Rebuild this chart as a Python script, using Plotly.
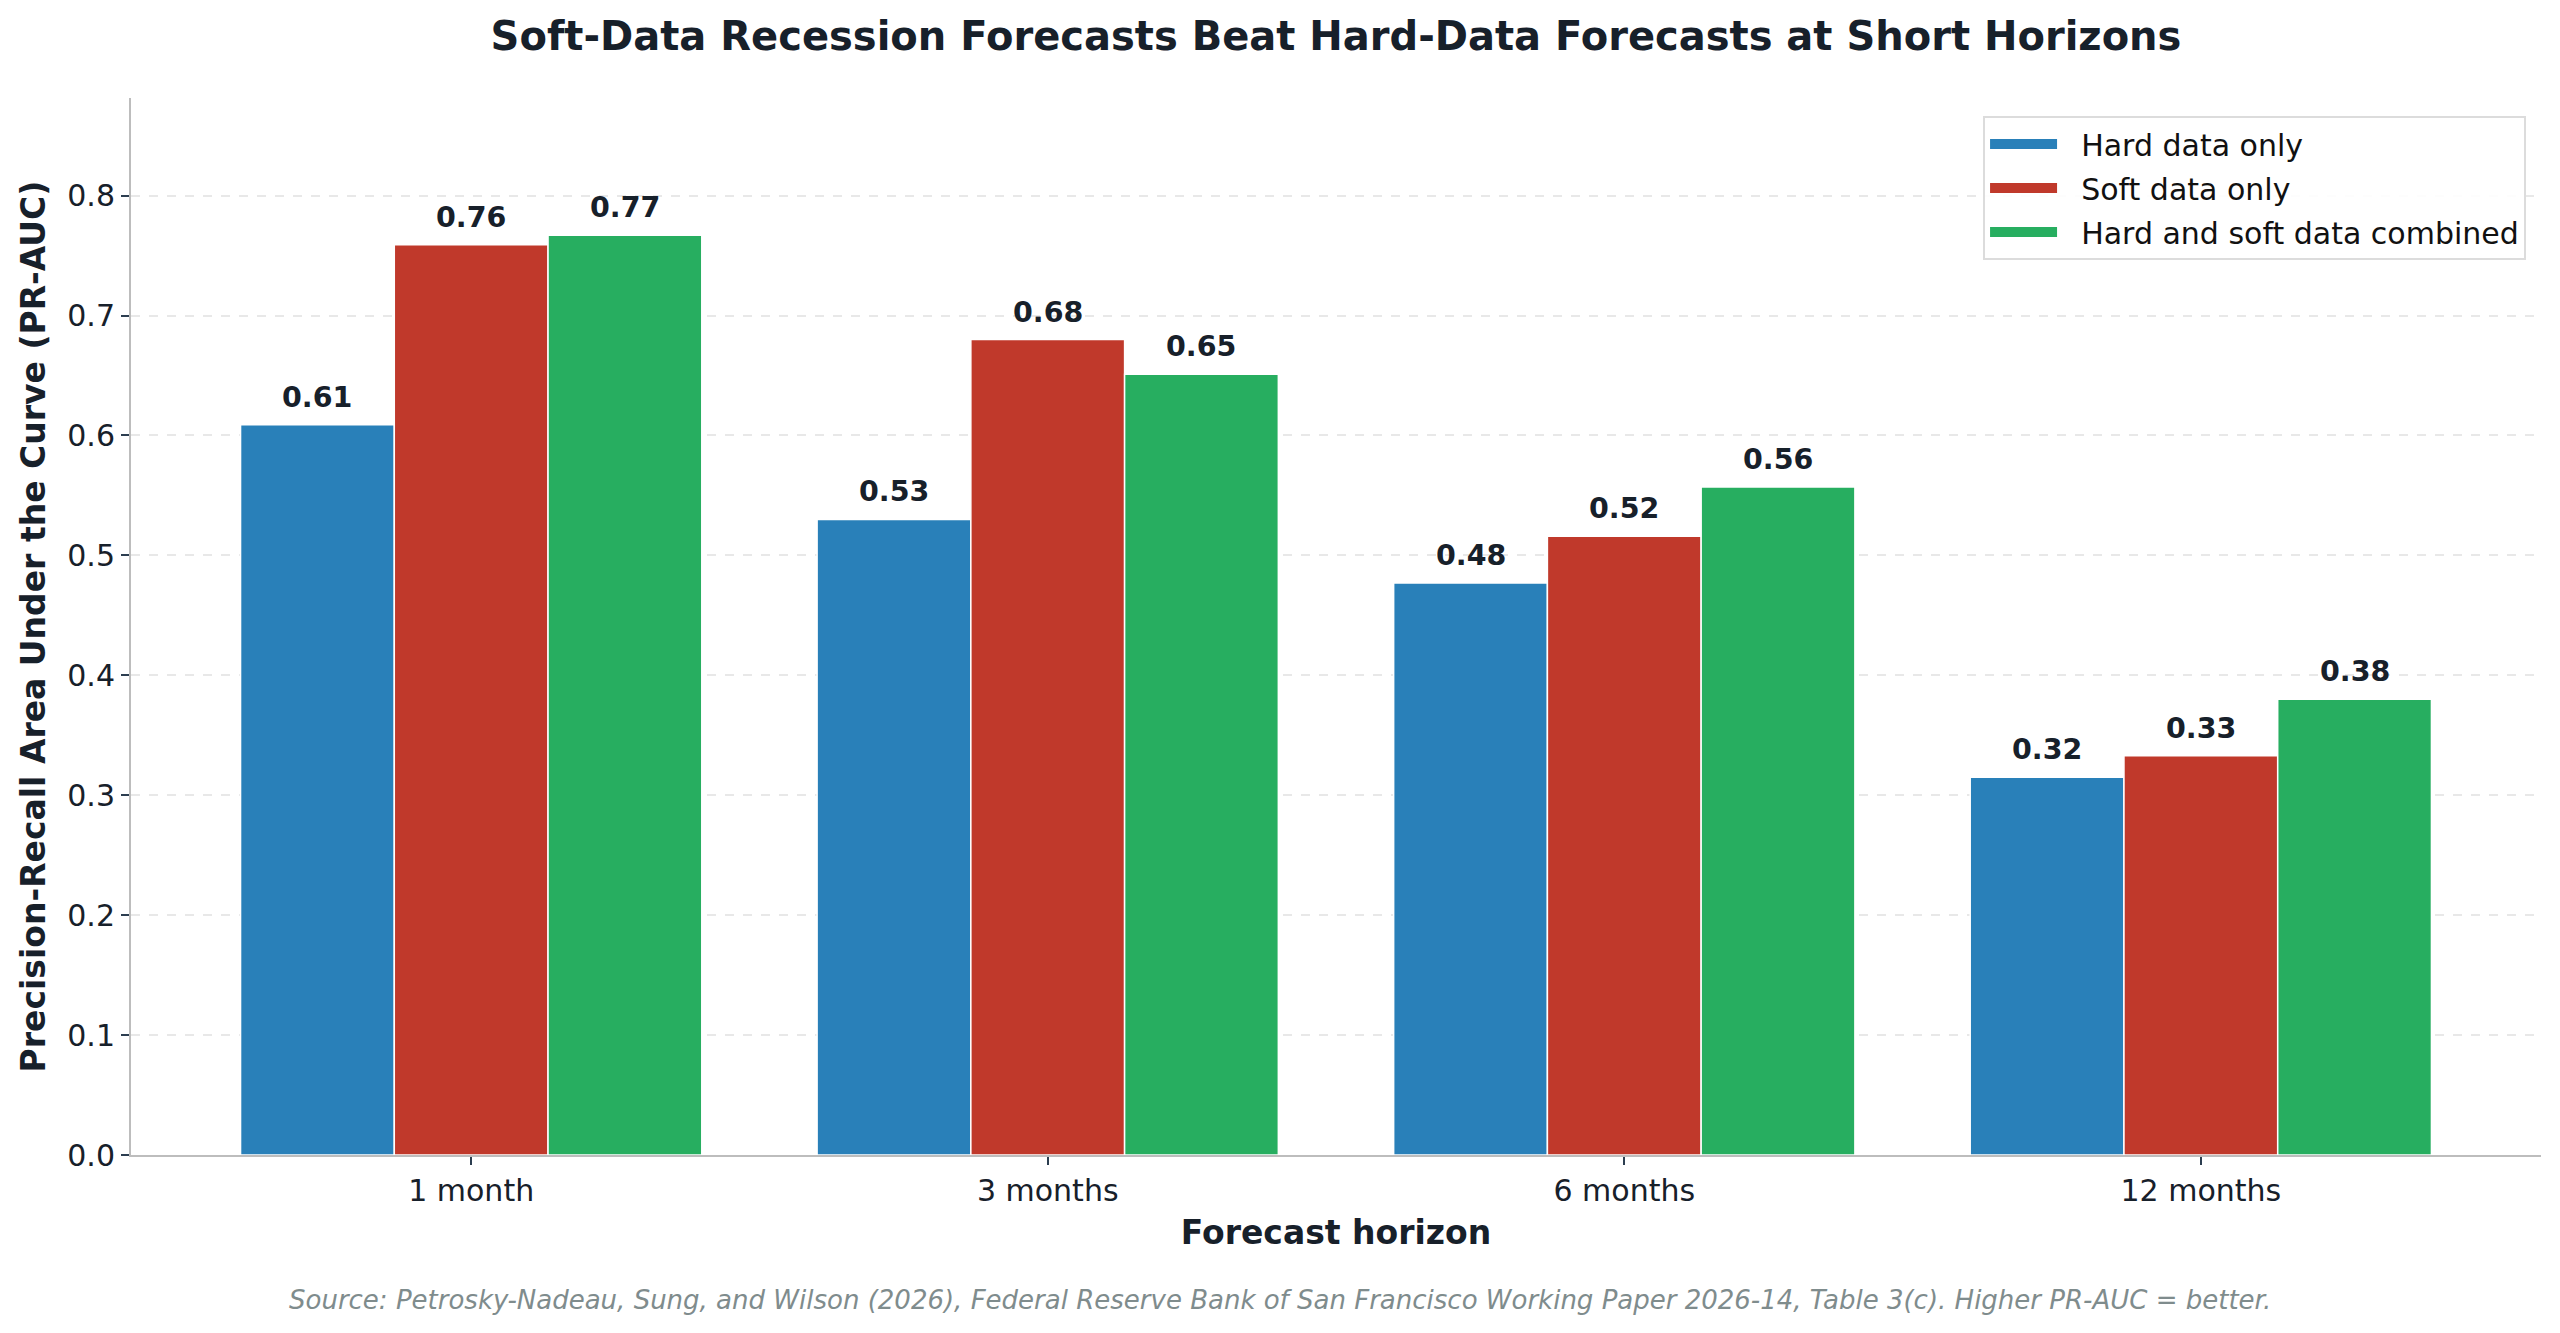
import plotly.graph_objects as go

# ---- data ----
horizons = ["1 month", "3 months", "6 months", "12 months"]
series_names = ["Hard data only", "Soft data only", "Hard and soft data combined"]
hard_only = [0.609, 0.530, 0.477, 0.315]
soft_only = [0.759, 0.680, 0.516, 0.333]
combined = [0.767, 0.651, 0.557, 0.380]
y_ticks = [0.0, 0.1, 0.2, 0.3, 0.4, 0.5, 0.6, 0.7, 0.8]

colors = ["#2980b9", "#c0392b", "#27ae60"]
series_values = [hard_only, soft_only, combined]

DARK = "#17202a"
FONT = "DejaVu Sans"

W, H = 2560, 1333
ML, MR, MT, MB = 131, 19, 98, 178
PW, PH = W - ML - MR, H - MT - MB

n_series = len(series_values)
group_width = 0.8
bar_w = group_width / n_series
x_centers = list(range(len(horizons)))

fig = go.Figure()
annotations = []
for s, (name, vals, col) in enumerate(zip(series_names, series_values, colors)):
    off = (s - (n_series - 1) / 2) * bar_w
    xs = [c + off for c in x_centers]
    fig.add_trace(go.Bar(
        x=xs, y=vals, width=bar_w, name=name,
        marker=dict(color=col, line=dict(color="white", width=1.5)),
        legendgroup=name, showlegend=False, hoverinfo="skip",
    ))
    # legend entry drawn as a wide patch (thick line symbol)
    fig.add_trace(go.Scatter(
        x=[None], y=[None], mode="lines", name="\u00a0\u00a0" + name,
        line=dict(color=col, width=20),
        legendgroup=name, showlegend=True, hoverinfo="skip",
    ))
    for x, v in zip(xs, vals):
        annotations.append(dict(
            x=x, y=v, xref="x", yref="y", text=f"<b>{v:.2f}</b>",
            showarrow=False, yanchor="bottom", yshift=9,
            font=dict(family=FONT, size=28.5, color=DARK),
        ))

annotations.append(dict(
    text="<i>Source: Petrosky-Nadeau, Sung, and Wilson (2026), Federal Reserve Bank of San Francisco Working Paper 2026-14, Table 3(c). Higher PR-AUC = better.</i>",
    xref="paper", yref="paper", x=(W / 2 - ML) / PW, y=-((1300 - (H - MB)) / PH),
    xanchor="center", yanchor="middle", showarrow=False,
    font=dict(family=FONT, size=26, color="#7f8c8d"),
))

fig.update_layout(
    width=W, height=H,
    paper_bgcolor="white", plot_bgcolor="white",
    margin=dict(l=ML, r=MR, t=MT, b=MB),
    barmode="overlay",
    title=dict(
        text="<b>Soft-Data Recession Forecasts Beat Hard-Data Forecasts at Short Horizons</b>",
        x=(ML + W - MR) / 2 / W, xanchor="center",
        y=1 - 36 / H, yanchor="middle",
        font=dict(family=FONT, size=40, color=DARK),
    ),
    font=dict(family=FONT, color=DARK),
    legend=dict(
        x=0.9938, y=0.983, xanchor="right", yanchor="top",
        bgcolor="rgba(255,255,255,0.9)", bordercolor="#dcdcdc", borderwidth=2,
        font=dict(family=FONT, size=30, color="#111111"),
        traceorder="grouped", tracegroupgap=2, itemwidth=67,
    ),
    annotations=annotations,
    showlegend=True,
)

fig.update_xaxes(
    range=[-0.59, len(horizons) - 1 + 0.59],
    tickmode="array", tickvals=x_centers, ticktext=horizons,
    tickfont=dict(family=FONT, size=30, color=DARK),
    ticks="outside", ticklen=8, tickwidth=1.5, tickcolor="#2c3e50",
    showline=True, linecolor="#bdbdbd", linewidth=2,
    showgrid=False, zeroline=False,
    title=dict(text="<b>Forecast horizon</b>", standoff=14,
               font=dict(family=FONT, size=33, color=DARK)),
)
fig.update_yaxes(
    range=[0, 0.8814],
    tickmode="array", tickvals=y_ticks, ticktext=[f"{t:.1f}" for t in y_ticks],
    tickfont=dict(family=FONT, size=30, color=DARK),
    ticks="outside", ticklen=8, tickwidth=1.5, tickcolor="#2c3e50",
    showline=True, linecolor="#bdbdbd", linewidth=2,
    showgrid=True, gridcolor="#e8e8e8", gridwidth=1.5, griddash="dash",
    zeroline=False,
    title=dict(text="<b>Precision-Recall Area Under the Curve (PR-AUC)</b>", standoff=12,
               font=dict(family=FONT, size=33, color=DARK)),
)

fig.write_html("out.html")
